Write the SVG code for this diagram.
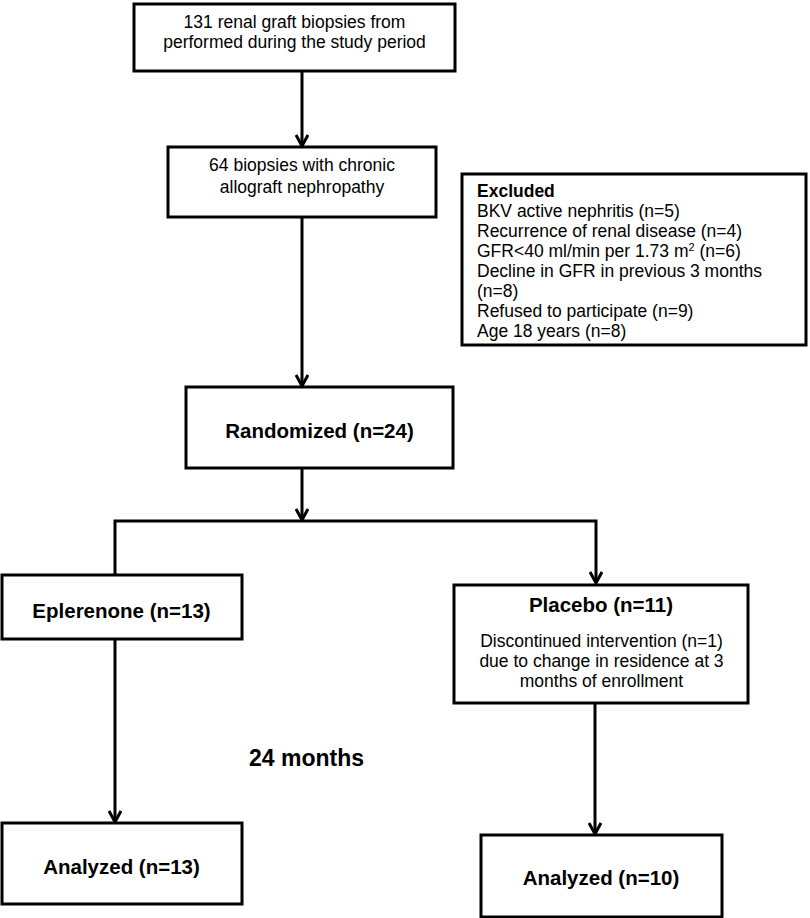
<svg xmlns="http://www.w3.org/2000/svg" width="810" height="918" viewBox="0 0 810 918">
<style>
  .box { fill: #ffffff; stroke: #000000; stroke-width: 3; }
  .t { font-family: "Liberation Sans", Arial, sans-serif; font-size: 17.5px; fill: #000000; }
  .c { text-anchor: middle; }
  .b { font-weight: bold; font-size: 20.5px; }
  .eb { font-weight: bold; }
  .big { font-weight: bold; font-size: 23px; }
  .sup { font-size: 11px; }
  .conn { fill: none; stroke: #000000; stroke-width: 3; }
</style>
<defs>
  <marker id="arr" viewBox="0 0 14 14" refX="12" refY="7" markerWidth="14" markerHeight="14" markerUnits="userSpaceOnUse" orient="auto">
    <path d="M1,1 L12,7 L1,13" fill="none" stroke="#000000" stroke-width="3"/>
  </marker>
</defs>
<rect width="810" height="918" fill="#ffffff"/>

<g id="connectors">
  <line class="conn" x1="302" y1="71" x2="302" y2="146" marker-end="url(#arr)"/>
  <line class="conn" x1="302" y1="217" x2="302" y2="386" marker-end="url(#arr)"/>
  <line class="conn" x1="302" y1="468" x2="302" y2="520" marker-end="url(#arr)"/>
  <polyline class="conn" points="115,574 115,521 596,521 596,583" marker-end="url(#arr)"/>
  <line class="conn" x1="115" y1="639" x2="115" y2="822" marker-end="url(#arr)"/>
  <line class="conn" x1="595" y1="703" x2="595" y2="834" marker-end="url(#arr)"/>
</g>

<g id="n-biopsies">
  <rect class="box" x="134" y="4" width="321" height="67"/>
  <text class="t c" x="294.5" y="28">131 renal graft biopsies from</text>
  <text class="t c" x="294.5" y="48">performed during the study period</text>
</g>

<g id="n-chronic">
  <rect class="box" x="168" y="147" width="268" height="70"/>
  <text class="t c" x="302" y="171">64 biopsies with chronic</text>
  <text class="t c" x="302" y="193">allograft nephropathy</text>
</g>

<g id="n-excluded">
  <rect class="box" x="462" y="174" width="344" height="171"/>
  <text class="t eb" x="477" y="197">Excluded</text>
  <text class="t" x="477" y="217">BKV active nephritis (n=5)</text>
  <text class="t" x="477" y="237">Recurrence of renal disease (n=4)</text>
  <text class="t" x="477" y="257">GFR&lt;40 ml/min per 1.73 m<tspan class="sup" dy="-6">2</tspan><tspan dy="6"> (n=6)</tspan></text>
  <text class="t" x="477" y="277">Decline in GFR in previous 3 months</text>
  <text class="t" x="477" y="297">(n=8)</text>
  <text class="t" x="477" y="317">Refused to participate (n=9)</text>
  <text class="t" x="477" y="337">Age 18 years (n=8)</text>
</g>

<g id="n-randomized">
  <rect class="box" x="186" y="387" width="267" height="81"/>
  <text class="t b c" x="319.5" y="438">Randomized (n=24)</text>
</g>

<g id="n-eplerenone">
  <rect class="box" x="2" y="575" width="240" height="64"/>
  <text class="t b c" x="121.5" y="618">Eplerenone (n=13)</text>
</g>

<g id="n-placebo">
  <rect class="box" x="454" y="585" width="294" height="118"/>
  <text class="t b c" x="601" y="612">Placebo (n=11)</text>
  <text class="t c" x="601.5" y="647">Discontinued intervention (n=1)</text>
  <text class="t c" x="601.5" y="667">due to change in residence at 3</text>
  <text class="t c" x="601.5" y="687">months of enrollment</text>
</g>

<g id="n-months">
  <text class="t big" x="249" y="766">24 months</text>
</g>

<g id="n-analyzed13">
  <rect class="box" x="2" y="823" width="240" height="81"/>
  <text class="t b c" x="121.5" y="874">Analyzed (n=13)</text>
</g>

<g id="n-analyzed10">
  <rect class="box" x="481" y="835" width="241" height="82"/>
  <text class="t b c" x="601" y="885">Analyzed (n=10)</text>
</g>
</svg>
